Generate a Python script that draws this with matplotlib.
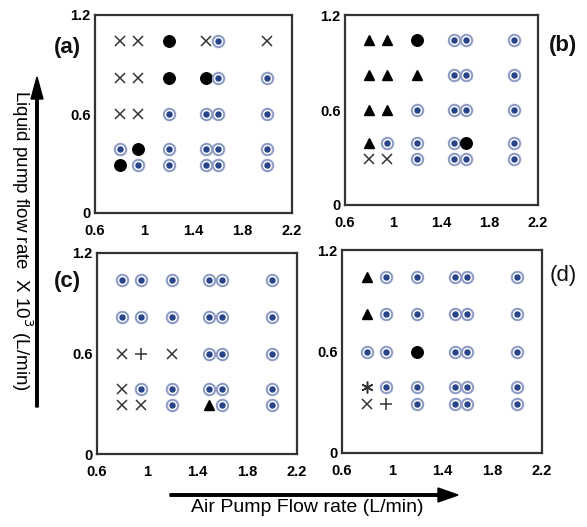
import matplotlib
matplotlib.use("Agg")
import matplotlib.pyplot as plt

plt.rcParams['font.family'] = ['Liberation Sans', 'DejaVu Sans']

# grid of air flow (x) and liquid flow (y) settings
air_flow = [0.8, 0.95, 1.2, 1.5, 1.6, 2.0]
liquid_flow = [1.04, 0.82, 0.6, 0.39, 0.29]

# regime code per point, rows top -> bottom, columns along air_flow
# x = cross, o = black dot, b = blue bullseye, ^ = triangle, + = plus, * = asterisk
panel_a = ["xxoxbx",
           "xxoobb",
           "xxbbbb",
           "bobbbb",
           "obbbbb"]
panel_b = ["^^obbb",
           "^^^bbb",
           "^^bbbb",
           "^bbbob",
           "xxbbbb"]
panel_c = ["bbbbbb",
           "bbbbbb",
           "x+xbbb",
           "xbbbbb",
           "xxb^bb"]
panel_d = ["^bbbbb",
           "^bbbbb",
           "bbobbb",
           "*bbbbb",
           "x+bbbb"]

panels = [panel_a, panel_b, panel_c, panel_d]
labels = ["(a)", "(b)", "(c)", "(d)"]

W, H = 587, 527
fig = plt.figure(figsize=(W / 100, H / 100), dpi=100)

# axes boxes in pixels: left, right, top, bottom
boxes = [(95, 292, 15, 213), (345, 538, 15, 205),
         (97, 297, 253, 454), (342, 542, 250, 453)]
label_pos = [(67, 47, 'bold'), (563, 45, 'bold'), (67, 281, 'bold'), (563, 275, 'normal')]

ring_col = '#8e9dc6'
dot_col = '#27448a'


def draw_panel(ax, grid):
    for j, row in enumerate(grid):
        for i, code in enumerate(row):
            x, y = air_flow[i], liquid_flow[j]
            if code == 'b':
                ax.plot(x, y, 'o', ms=8.2, mfc='white', mec=ring_col, mew=1.5, zorder=3)
                ax.plot(x, y, 'o', ms=3.6, mfc=dot_col, mec=dot_col, zorder=4)
            elif code == 'o':
                ax.plot(x, y, 'o', ms=8.3, color='black', zorder=3)
            elif code == '^':
                ax.plot(x, y, '^', ms=7.8, color='black', zorder=3)
            elif code == 'x':
                ax.plot(x, y, 'x', ms=7.3, mew=1.1, color='#333333', zorder=3)
            elif code == '+':
                ax.plot(x, y, '+', ms=8.5, mew=1.1, color='#333333', zorder=3)
            elif code == '*':
                ax.plot(x, y, marker=(6, 2, 0), ms=8.5, mew=1.1, color='#333333', zorder=3)


for grid, (l, r, t, b), lab, (lx, ly, lw) in zip(panels, boxes, labels, label_pos):
    ax = fig.add_axes([l / W, (H - b) / H, (r - l) / W, (b - t) / H])
    draw_panel(ax, grid)
    ax.set_xlim(0.6, 2.2)
    ax.set_ylim(0, 1.2)
    ax.set_xticks([0.6, 1, 1.4, 1.8, 2.2])
    ax.set_xticklabels(["0.6", "1", "1.4", "1.8", "2.2"])
    ax.set_yticks([0, 0.6, 1.2])
    ax.set_yticklabels(["0", "0.6", "1.2"])
    ax.tick_params(length=0, labelsize=10.5)
    ax.tick_params(axis='x', pad=8)
    ax.tick_params(axis='y', pad=3)
    for t_ in ax.get_xticklabels() + ax.get_yticklabels():
        t_.set_fontweight('bold')
    for s in ax.spines.values():
        s.set_color('#333333')
        s.set_linewidth(1.6)
    fig.text(lx / W, 1 - ly / H, lab, fontsize=16, fontweight=lw,
             ha='center', va='center', color='#111111')

# axis titles with arrows
fig.text(22 / W, 1 - 240 / H, "Liquid pump flow rate  X 10$^3$ (L/min)",
         rotation=270, fontsize=13.5, ha='center', va='center')
fig.text(307 / W, 1 - 507 / H, "Air Pump Flow rate (L/min)",
         fontsize=14, ha='center', va='center')

fig.patches.append(matplotlib.patches.FancyArrow(
    37 / W, 1 - 407 / H, 0, (407 - 77) / H, width=2.5 / W, head_width=12 / W,
    head_length=22 / H, length_includes_head=True, color='black',
    transform=fig.transFigure))
fig.patches.append(matplotlib.patches.FancyArrow(
    170 / W, 1 - 495 / H, (458 - 170) / W, 0, width=2.5 / H, head_width=14 / H,
    head_length=20 / W, length_includes_head=True, color='black',
    transform=fig.transFigure))

fig.savefig("out.png", dpi=100)
